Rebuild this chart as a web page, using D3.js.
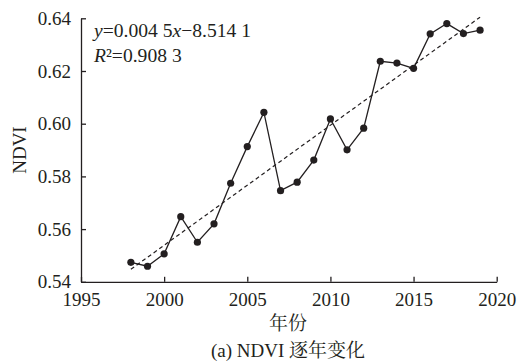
<!DOCTYPE html>
<html><head><meta charset="utf-8">
<script src="https://cdn.jsdelivr.net/npm/d3@7"></script>
<style>body{margin:0;background:#fff}svg{display:block}text{fill:#231f20}</style>
</head><body>
<script>
const years = [1998,1999,2000,2001,2002,2003,2004,2005,2006,2007,2008,2009,2010,2011,2012,2013,2014,2015,2016,2017,2018,2019];
const ndvi = [0.5474,0.5459,0.5506,0.5647,0.5550,0.5620,0.5774,0.5913,0.6043,0.5746,0.5778,0.5862,0.6018,0.5901,0.5983,0.6237,0.6230,0.6210,0.6341,0.6380,0.6342,0.6355];
const xTicks = [1995,2000,2005,2010,2015,2020];
const yTicks = [0.54,0.56,0.58,0.60,0.62,0.64];
const eqText = ["y","=0.004 5","x","\u22128.514 1"];
const r2Text = ["R","\u00b2","=0.908 3"];
const xTitle = "年份";
const yTitle = "NDVI";
const caption = "(a) NDVI 逐年变化";

const W=517,H=363, m={l:81,r:20.3,t:18.3,b:81.2};
const font = "'Liberation Serif','Times New Roman','Noto Serif CJK SC','Noto Sans CJK SC',serif";
const svg = d3.select("body").append("svg").attr("width",W).attr("height",H)
  .style("font-family",font);
const x = d3.scaleLinear().domain([1995,2020]).range([m.l,W-m.r]);
const y = d3.scaleLinear().domain([0.54,0.64]).range([H-m.b,m.t]);
const col="#231f20";

// axes
const xa = svg.append("g").attr("transform",`translate(0,${H-m.b})`)
  .call(d3.axisBottom(x).tickValues(xTicks).tickFormat(d3.format("d")).tickSizeInner(-5).tickSizeOuter(0).tickPadding(10));
const ya = svg.append("g").attr("transform",`translate(${m.l},0)`)
  .call(d3.axisLeft(y).tickValues(yTicks).tickFormat(d3.format(".2f")).tickSizeInner(-5).tickSizeOuter(0).tickPadding(10));
[xa,ya].forEach(a=>{
  a.selectAll("path,line").attr("stroke",col).attr("stroke-width",1.3);
  a.selectAll("text").attr("font-size",19).attr("fill",col).style("font-family",font);
});
xa.selectAll("text").attr("dy","0.75em");

// regression
const n=years.length, mx=d3.mean(years), my=d3.mean(ndvi);
const b=d3.sum(years,(v,i)=>(v-mx)*(ndvi[i]-my))/d3.sum(years,v=>(v-mx)*(v-mx));
const a0=my-b*mx;
const fit=[years[0],years[n-1]].map(v=>[v,a0+b*v]);
svg.append("path").attr("d",d3.line().x(d=>x(d[0])).y(d=>y(d[1]))(fit))
  .attr("fill","none").attr("stroke",col).attr("stroke-width",1.2).attr("stroke-dasharray","4,3");

// series
const pts=years.map((v,i)=>[v,ndvi[i]]);
svg.append("path").attr("d",d3.line().x(d=>x(d[0])).y(d=>y(d[1]))(pts))
  .attr("fill","none").attr("stroke",col).attr("stroke-width",1.3);
svg.selectAll("circle.p").data(pts).join("circle").attr("class","p")
  .attr("cx",d=>x(d[0])).attr("cy",d=>y(d[1])).attr("r",3.6).attr("fill",col);

// equation
const t1=svg.append("text").attr("x",94).attr("y",37).attr("font-size",19.6);
t1.append("tspan").attr("font-style","italic").text(eqText[0]);
t1.append("tspan").text(eqText[1]);
t1.append("tspan").attr("font-style","italic").text(eqText[2]);
t1.append("tspan").text(eqText[3]);
const t2=svg.append("text").attr("x",94).attr("y",61.5).attr("font-size",19.6);
t2.append("tspan").attr("font-style","italic").text(r2Text[0]);
t2.append("tspan").text(r2Text[1]);
t2.append("tspan").text(r2Text[2]);

// titles
svg.append("text").attr("x",288).attr("y",330).attr("text-anchor","middle").attr("font-size",19).text(xTitle);
svg.append("text").attr("transform",`translate(26,${(m.t+H-m.b)/2}) rotate(-90)`).attr("text-anchor","middle").attr("font-size",19).text(yTitle);
svg.append("text").attr("x",288).attr("y",357).attr("text-anchor","middle").attr("font-size",19).text(caption);
</script>
</body></html>
